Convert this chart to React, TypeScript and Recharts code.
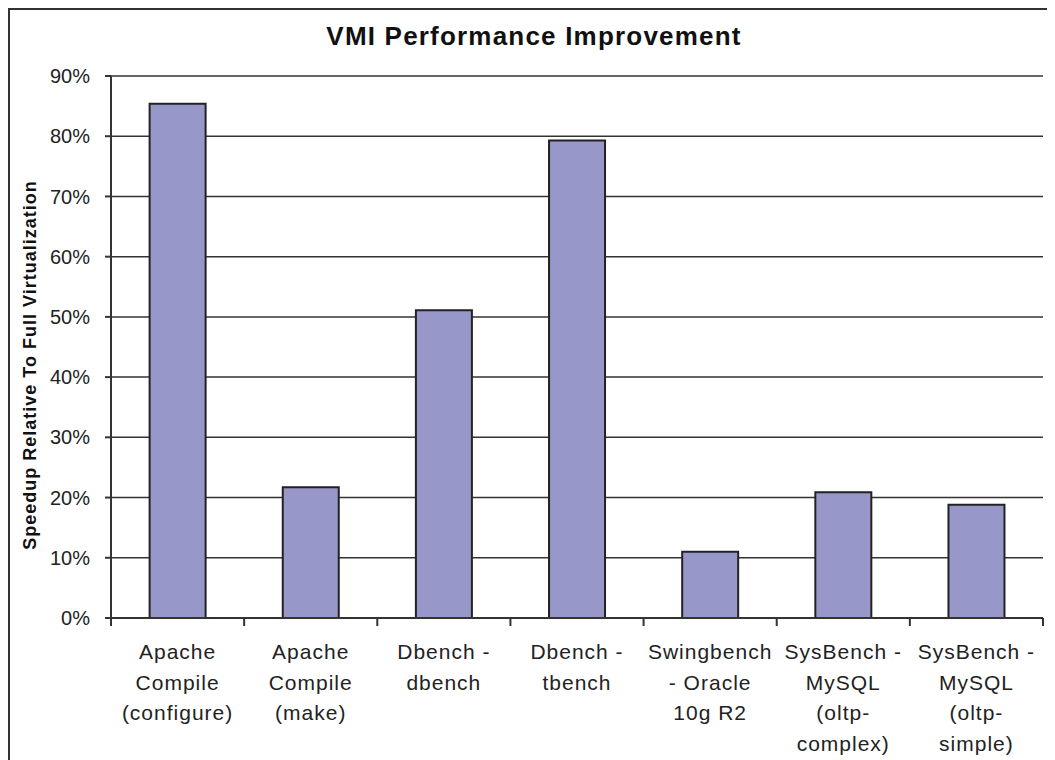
import React from "react";
import { Bar, BarChart, CartesianGrid, XAxis, YAxis } from "recharts";

const categories = [
  "Apache\nCompile\n(configure)",
  "Apache\nCompile\n(make)",
  "Dbench -\ndbench",
  "Dbench -\ntbench",
  "Swingbench\n- Oracle\n10g R2",
  "SysBench -\nMySQL\n(oltp-\ncomplex)",
  "SysBench -\nMySQL\n(oltp-\nsimple)",
];

const speedup = [85.4, 21.7, 51.1, 79.3, 11.0, 20.9, 18.8];

const yTicks = [0, 10, 20, 30, 40, 50, 60, 70, 80, 90];

const data = categories.map((name, i) => ({ name, speedup: speedup[i] }));

const FONT = '"Liberation Sans", Arial, sans-serif';
const AXIS = "#333";

// category tick: multi-line label plus a tick mark on the band boundary
const CategoryTick = (props: any) => {
  const { x, y, payload, index } = props;
  const half = payload?.offset ?? 66.7;
  const lines = String(payload.value).split("\n");
  return (
    <g>
      <line x1={x - half} x2={x - half} y1={y} y2={y + 8} stroke={AXIS} strokeWidth={2} />
      {index === categories.length - 1 && (
        <line x1={x + half} x2={x + half} y1={y} y2={y + 8} stroke={AXIS} strokeWidth={2} />
      )}
      <text
        x={x}
        y={y + 41}
        textAnchor="middle"
        fill="#222"
        fontSize={21}
        fontFamily={FONT}
        letterSpacing={1}
      >
        {lines.map((l, i) => (
          <tspan key={i} x={x} dy={i === 0 ? 0 : 30.5}>
            {l}
          </tspan>
        ))}
      </text>
    </g>
  );
};

const YTitle = (props: any) => {
  const vb = props.viewBox || {};
  const cy = (vb.y ?? 68) + (vb.height ?? 542) / 2 + 18;
  return (
    <text
      x={22}
      y={cy}
      transform={`rotate(-90, 22, ${cy})`}
      textAnchor="middle"
      dominantBaseline="central"
      fontSize={18}
      fontWeight="bold"
      fontFamily={FONT}
      letterSpacing={1}
      fill="#111"
    >
      Speedup Relative To Full Virtualization
    </text>
  );
};

export default function App() {
  return (
    <div style={{ width: 1047, height: 752, overflow: "hidden", position: "relative" }}>
      <div
        style={{
          position: "absolute",
          left: 0,
          top: 0,
          width: 1100,
          height: 800,
          borderLeft: "2px solid #333",
          borderTop: "2px solid #333",
          boxSizing: "border-box",
        }}
      />
      <div
        style={{
          position: "absolute",
          left: 226,
          top: 15,
          width: 600,
          textAlign: "center",
          whiteSpace: "nowrap",
          fontFamily: FONT,
          fontWeight: "bold",
          fontSize: 26,
          lineHeight: "26px",
          letterSpacing: 1.2,
          color: "#111",
        }}
      >
        VMI Performance Improvement
      </div>
      <BarChart
        width={1047}
        height={752}
        data={data}
        margin={{ top: 68, right: 12, bottom: 0, left: 20 }}
        barCategoryGap="29%"
      >
        <CartesianGrid vertical={false} stroke={AXIS} strokeWidth={1.5} />
        <XAxis
          dataKey="name"
          height={142}
          interval={0}
          tickLine={false}
          tickSize={0}
          tickMargin={0}
          axisLine={{ stroke: AXIS, strokeWidth: 2 }}
          tick={<CategoryTick />}
        />
        <YAxis
          width={83}
          domain={[0, 90]}
          ticks={yTicks}
          interval={0}
          tickFormatter={(v: number) => `${v}%`}
          tickSize={6}
          tickMargin={15}
          tickLine={{ stroke: AXIS, strokeWidth: 2 }}
          axisLine={{ stroke: AXIS, strokeWidth: 2 }}
          tick={{ fill: "#222", fontSize: 20, fontFamily: FONT }}
          label={<YTitle />}
        />
        <YAxis
          yAxisId="right"
          orientation="right"
          width={0}
          domain={[0, 90]}
          tick={false}
          tickLine={false}
          axisLine={{ stroke: AXIS, strokeWidth: 2 }}
        />
        <Bar
          dataKey="speedup"
          fill="#9797C9"
          stroke="#222"
          strokeWidth={2}
          isAnimationActive={false}
        />
      </BarChart>
    </div>
  );
}
